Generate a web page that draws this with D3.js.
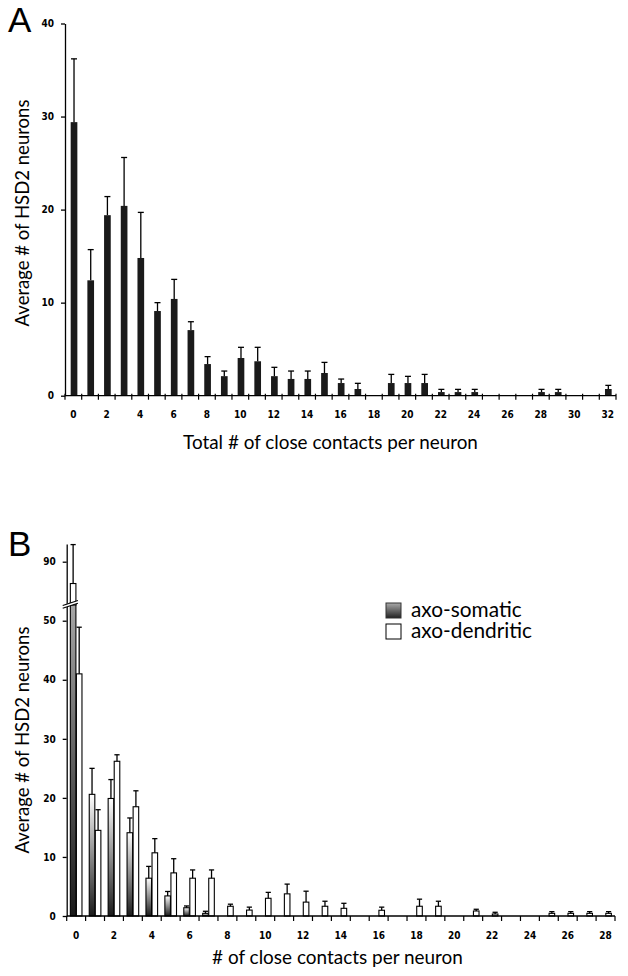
<!DOCTYPE html>
<html><head><meta charset="utf-8">
<script src="https://cdn.jsdelivr.net/npm/d3@7"></script>
<style>body{margin:0;background:#fff} svg{display:block}</style>
</head><body>
<svg id="chart" width="628" height="976"></svg>
<script>
// ---------- Panel A data ----------
const categoriesA = [0,1,2,3,4,5,6,7,8,9,10,11,12,13,14,15,16,17,18,19,20,21,22,23,24,25,26,27,28,29,30,31,32];
const meanA = [29.4,12.4,19.4,20.4,14.8,9.1,10.4,7.05,3.4,2.1,4.05,3.7,2.1,1.8,1.8,2.44,1.36,0.72,0,1.36,1.36,1.36,0.39,0.39,0.39,0,0,0,0.39,0.39,0,0,0.72];
const errA  = [6.8,3.3,2.0,5.2,4.9,0.9,2.1,0.9,0.8,0.55,1.15,1.5,0.95,0.85,0.85,1.14,0.43,0.61,0,0.93,0.72,0.93,0.29,0.29,0.29,0,0,0,0.29,0.29,0,0,0.39];
const yTicksA = [0,10,20,30,40];
const xLabelsA = [0,2,4,6,8,10,12,14,16,18,20,22,24,26,28,30,32];

// ---------- Panel B data ----------
const categoriesB = [0,1,2,3,4,5,6,7,8,9,10,11,12,13,14,15,16,17,18,19,20,21,22,23,24,25,26,27,28];
const seriesB = ["axo-somatic","axo-dendritic"];
const somaticMean = [86.3,20.6,19.9,14.1,6.4,3.4,1.4,0.45,0,0,0,0,0,0,0,0,0,0,0,0,0,0,0,0,0,0,0,0,0];
const somaticErr  = [6.6,4.4,3.2,2.5,2.0,0.75,0.3,0.35,0,0,0,0,0,0,0,0,0,0,0,0,0,0,0,0,0,0,0,0,0];
const dendriticMean = [41.0,14.5,26.2,18.5,10.7,7.3,6.4,6.4,1.65,1.0,3.0,3.75,2.35,1.65,1.3,0,0.97,0,1.65,1.65,0,0.85,0.34,0,0,0.45,0.45,0.45,0.45];
const dendriticErr  = [7.9,3.5,1.1,2.7,2.4,2.4,1.4,1.4,0.35,0.5,1.0,1.65,1.85,0.85,0.85,0,0.53,0,1.2,0.85,0,0.29,0.29,0,0,0.29,0.29,0.29,0.29];
const yTicksBLow = [0,10,20,30,40,50];
const yTicksBHigh = [90];
const xLabelsB = [0,2,4,6,8,10,12,14,16,18,20,22,24,26,28];

const yTitle = "Average # of HSD2 neurons";
const xTitleA = "Total # of close contacts per neuron";
const xTitleB = "# of close contacts per neuron";

// ---------- styles ----------
const tickFont = '"Liberation Sans Narrow","DejaVu Sans Condensed",Arial,sans-serif';
const textFont = 'Lato,"Open Sans","Noto Sans",sans-serif';
const letterFont = '"Liberation Sans",Arial,sans-serif';

const svg = d3.select("#chart");
const defs = svg.append("defs");
const gradL = defs.append("linearGradient").attr("id","gradLeg")
  .attr("x1",0).attr("y1",1).attr("x2",0).attr("y2",0);
gradL.append("stop").attr("offset","0%").attr("stop-color","#222");
gradL.append("stop").attr("offset","100%").attr("stop-color","#aaa");

function fit(sel, target){
  const w = sel.node().getComputedTextLength();
  const fs = parseFloat(sel.attr("font-size"));
  sel.attr("font-size", (fs*target/w).toFixed(2));
}
function styleAxis(g){
  g.attr("font-family", tickFont).attr("font-size", 10).attr("font-weight","bold");
  g.selectAll("path,line").attr("stroke","#000").attr("stroke-width",1.3);
}

// =========== Panel A ===========
const xA = d3.scaleBand().domain(categoriesA).range([65,616]).padding(0);
const yA = d3.scaleLinear().domain([0,40]).range([395.7,23.5]);
const bwA = xA.bandwidth();
const gA = svg.append("g");
const dataA = categoriesA.map((c,i)=>({c, m:meanA[i], e:errA[i]})).filter(d=>d.m>0);

gA.selectAll("rect.bar").data(dataA).join("rect")
  .attr("x", d=>xA(d.c)+bwA*0.34).attr("width", bwA*0.4)
  .attr("y", d=>yA(d.m)).attr("height", d=>yA(0)-yA(d.m))
  .attr("fill","#1a1a1a");
const cxA = d=>xA(d.c)+bwA*0.54;
gA.selectAll("line.err").data(dataA).join("line")
  .attr("x1",cxA).attr("x2",cxA).attr("y1",d=>yA(d.m)).attr("y2",d=>yA(d.m+d.e))
  .attr("stroke","#000").attr("stroke-width",1.3);
gA.selectAll("line.cap").data(dataA).join("line")
  .attr("x1",d=>cxA(d)-3).attr("x2",d=>cxA(d)+3).attr("y1",d=>yA(d.m+d.e)).attr("y2",d=>yA(d.m+d.e))
  .attr("stroke","#000").attr("stroke-width",1.3);

// x axis A
gA.append("line").attr("x1",xA.range()[0]).attr("x2",xA.range()[1])
  .attr("y1",yA(0)).attr("y2",yA(0)).attr("stroke","#000").attr("stroke-width",1.3);
const boundsA = categoriesA.map(c=>xA(c)).concat([xA.range()[1]]);
gA.selectAll("line.xt").data(boundsA).join("line")
  .attr("x1",d=>d).attr("x2",d=>d).attr("y1",yA(0)-2).attr("y2",yA(0)+4)
  .attr("stroke","#000").attr("stroke-width",1.2);
gA.selectAll("text.xl").data(xLabelsA).join("text")
  .attr("x",d=>xA(d)+bwA/2).attr("y",yA(0)+22.5).attr("text-anchor","middle")
  .attr("font-family",tickFont).attr("font-size",10).attr("font-weight","bold")
  .text(d=>d);
// y axis A
gA.append("g").attr("transform",`translate(${xA.range()[0]},0)`)
  .call(d3.axisLeft(yA).tickValues(yTicksA).tickSize(4).tickSizeOuter(0).tickPadding(7))
  .call(styleAxis);

// titles A
gA.append("text").attr("x",8).attr("y",32).attr("font-family",letterFont)
  .attr("font-size",35).text("A");
const tAy = gA.append("text").attr("transform","translate(29,213) rotate(-90)")
  .attr("text-anchor","middle").attr("font-family",textFont).attr("font-size",18).text(yTitle);
fit(tAy, 227);
const tAx = gA.append("text").attr("x",330.5).attr("y",449).attr("text-anchor","middle")
  .attr("font-family",textFont).attr("font-size",18).text(xTitleA);
fit(tAx, 295);

// =========== Panel B ===========
const xB = d3.scaleBand().domain(categoriesB).range([66.7,615]).padding(0);
const xSub = d3.scaleBand().domain(seriesB).range([0,xB.bandwidth()]).paddingInner(0.08).paddingOuter(0.6);
const breakLow = 53, breakHigh = 83;
const yLow = d3.scaleLinear().domain([0,breakLow]).range([916,603]);
const yHigh = d3.scaleLinear().domain([breakHigh,93]).range([603,544]);
const yB = v => v <= breakLow ? yLow(v) : yHigh(v);
const gB = svg.append("g");

const dataB = [];
categoriesB.forEach((c,i)=>{
  dataB.push({c, s:"axo-somatic", m:somaticMean[i], e:somaticErr[i], i});
  dataB.push({c, s:"axo-dendritic", m:dendriticMean[i], e:dendriticErr[i], i});
});
const barsB = dataB.filter(d=>d.m>0);
const sbw = xSub.bandwidth();

// per-bar gradients for somatic bars (dark at base, light at the value on the unbroken scale)
barsB.filter(d=>d.s==="axo-somatic").forEach(d=>{
  const g = defs.append("linearGradient").attr("id","gs"+d.i)
    .attr("gradientUnits","userSpaceOnUse")
    .attr("x1",0).attr("x2",0).attr("y1",yLow(0)).attr("y2",yLow(d.m));
  g.append("stop").attr("offset","0%").attr("stop-color","#1a1a1a");
  g.append("stop").attr("offset","100%").attr("stop-color","#ffffff");
});
const fillB = d => d.s==="axo-somatic" ? `url(#gs${d.i})` : "#fff";

// lower segments
gB.selectAll("rect.barLow").data(barsB).join("rect")
  .attr("x", d=>xB(d.c)+xSub(d.s)).attr("width", sbw)
  .attr("y", d=>yLow(Math.min(d.m, breakLow))).attr("height", d=>yLow(0)-yLow(Math.min(d.m, breakLow)))
  .attr("fill", fillB)
  .attr("stroke","#000").attr("stroke-width",1.1);
// upper segments (broken bars)
gB.selectAll("rect.barHigh").data(barsB.filter(d=>d.m>breakLow)).join("rect")
  .attr("x", d=>xB(d.c)+xSub(d.s)).attr("width", sbw)
  .attr("y", d=>yHigh(d.m)).attr("height", d=>yHigh(breakHigh)-yHigh(d.m)+2)
  .attr("fill", "#fff")
  .attr("stroke","#000").attr("stroke-width",1.1);

const cxB = d=>xB(d.c)+xSub(d.s)+sbw/2;
gB.selectAll("line.err").data(barsB).join("line")
  .attr("x1",cxB).attr("x2",cxB).attr("y1",d=>yB(d.m)).attr("y2",d=>yB(d.m+d.e))
  .attr("stroke","#000").attr("stroke-width",1.3);
gB.selectAll("line.cap").data(barsB).join("line")
  .attr("x1",d=>cxB(d)-2.6).attr("x2",d=>cxB(d)+2.6).attr("y1",d=>yB(d.m+d.e)).attr("y2",d=>yB(d.m+d.e))
  .attr("stroke","#000").attr("stroke-width",1.3);

// x axis B
gB.append("line").attr("x1",xB.range()[0]).attr("x2",xB.range()[1])
  .attr("y1",yB(0)).attr("y2",yB(0)).attr("stroke","#000").attr("stroke-width",1.3);
const boundsB = categoriesB.map(c=>xB(c)).concat([xB.range()[1]]);
gB.selectAll("line.xt").data(boundsB).join("line")
  .attr("x1",d=>d).attr("x2",d=>d).attr("y1",yB(0)).attr("y2",yB(0)+5)
  .attr("stroke","#000").attr("stroke-width",1.2);
gB.selectAll("text.xl").data(xLabelsB).join("text")
  .attr("x",d=>xB(d)+xB.bandwidth()/2).attr("y",yB(0)+22.5).attr("text-anchor","middle")
  .attr("font-family",tickFont).attr("font-size",10).attr("font-weight","bold")
  .text(d=>d);
// y axis B (broken)
gB.append("g").attr("transform",`translate(${xB.range()[0]},0)`)
  .call(d3.axisLeft(yLow).tickValues(yTicksBLow).tickSize(4).tickSizeOuter(0).tickPadding(7))
  .call(styleAxis);
gB.append("g").attr("transform",`translate(${xB.range()[0]},0)`)
  .call(d3.axisLeft(yHigh).tickValues(yTicksBHigh).tickSize(4).tickSizeOuter(0).tickPadding(7))
  .call(styleAxis);

// break marks
const bx0 = xB.range()[0]-4, bx1 = xB(0)+xSub("axo-somatic")+sbw+2;
const by = yLow(breakLow), rise = 5, gap = 2.8;
gB.append("path")
  .attr("d", `M${bx0},${by+rise/2}L${bx1},${by-rise/2}L${bx1},${by-rise/2+gap}L${bx0},${by+rise/2+gap}Z`)
  .attr("fill","#fff");
[0,gap].forEach(o=>{
  gB.append("line").attr("x1",bx0).attr("y1",by+rise/2+o).attr("x2",bx1).attr("y2",by-rise/2+o)
    .attr("stroke","#000").attr("stroke-width",1.1);
});

// legend
const leg = gB.append("g").attr("transform","translate(386,603)");
leg.selectAll("rect").data(seriesB).join("rect")
  .attr("x",0).attr("y",(d,i)=>i*21).attr("width",15).attr("height",15)
  .attr("fill",(d,i)=> i===0 ? "url(#gradLeg)" : "#fff")
  .attr("stroke",(d,i)=> i===0 ? "#333" : "#000").attr("stroke-width",1);
const legT = leg.selectAll("text").data(seriesB).join("text")
  .attr("x",25).attr("y",(d,i)=>14+i*21)
  .attr("font-family",textFont).attr("font-size",20).text(d=>d);
fit(d3.select(legT.nodes()[0]), 110.7);
legT.attr("font-size", d3.select(legT.nodes()[0]).attr("font-size"));

// titles B
gB.append("text").attr("x",8).attr("y",556).attr("font-family",letterFont)
  .attr("font-size",35).text("B");
const tBy = gB.append("text").attr("transform","translate(29,740) rotate(-90)")
  .attr("text-anchor","middle").attr("font-family",textFont).attr("font-size",18).text(yTitle);
fit(tBy, 227);
const tBx = gB.append("text").attr("x",337.5).attr("y",964).attr("text-anchor","middle")
  .attr("font-family",textFont).attr("font-size",18).text(xTitleB);
fit(tBx, 251);
</script>
</body></html>
